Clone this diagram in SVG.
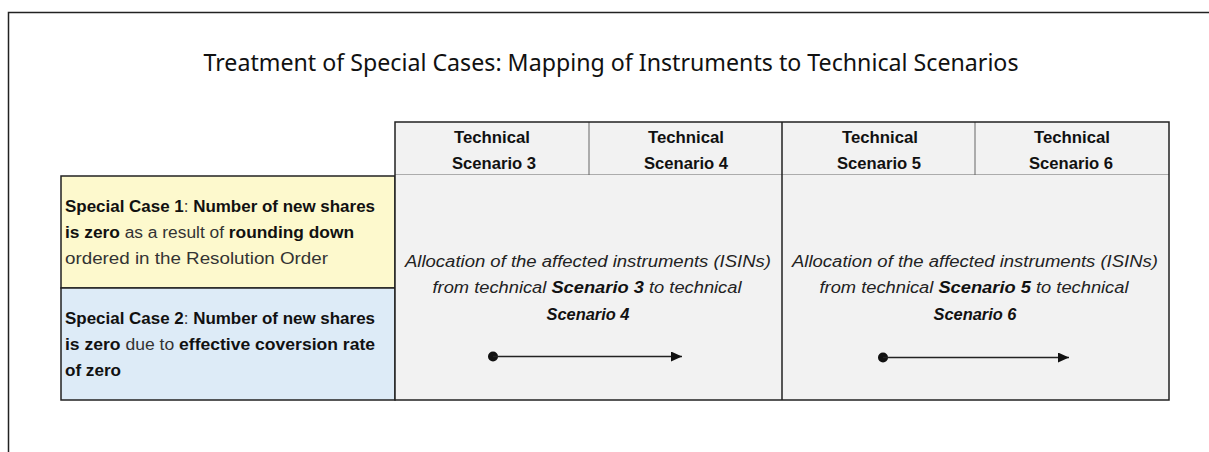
<svg xmlns="http://www.w3.org/2000/svg" width="1209" height="452" viewBox="0 0 1209 452">
<defs>
<style>
.frame{fill:none;stroke:#222;stroke-width:1.5}
.cell{stroke:#222;stroke-width:1.5}
.thin{stroke:#666;stroke-width:1;fill:none}
.hdr{font-family:"Liberation Sans",Arial,sans-serif;font-size:16px;font-weight:bold;fill:#111;text-anchor:middle}
.lbl{font-family:"Liberation Sans",Arial,sans-serif;font-size:16px;fill:#333}
.lbl .b{font-weight:bold;fill:#111}
.it{font-family:"Liberation Sans",Arial,sans-serif;font-size:16px;font-style:italic;fill:#222;text-anchor:middle}
.it .b{font-weight:bold;fill:#111}
.title{font-family:"Noto Sans","Open Sans",sans-serif;font-size:23px;fill:#111;text-anchor:middle}
.conn{stroke:#222;stroke-width:1.5;fill:none}
</style>
<marker id="ah" markerWidth="12" markerHeight="10" refX="11" refY="5" orient="auto" markerUnits="userSpaceOnUse">
<path d="M0,0 L11,5 L0,10 Z" fill="#111"/>
</marker>
</defs>
<rect x="0" y="0" width="1209" height="452" fill="#fff"/>
<path class="frame" d="M8.5,452 V12.5 H1209"/>
<text class="title" x="611" y="71" textLength="815" lengthAdjust="spacingAndGlyphs">Treatment of Special Cases: Mapping of Instruments to Technical Scenarios</text>

<g id="header">
<rect x="395" y="122" width="774" height="53" fill="#F2F2F2" stroke="none"/>
<line class="thin" x1="589" y1="122" x2="589" y2="175"/>
<line class="thin" x1="975" y1="122" x2="975" y2="175"/>
<line class="thin" x1="395" y1="175" x2="1169" y2="175"/>
<text class="hdr" x="492" y="143" textLength="76" lengthAdjust="spacingAndGlyphs">Technical</text>
<text class="hdr" x="494" y="169" textLength="84" lengthAdjust="spacingAndGlyphs">Scenario 3</text>
<text class="hdr" x="686" y="143" textLength="76" lengthAdjust="spacingAndGlyphs">Technical</text>
<text class="hdr" x="686" y="169" textLength="84" lengthAdjust="spacingAndGlyphs">Scenario 4</text>
<text class="hdr" x="880" y="143" textLength="76" lengthAdjust="spacingAndGlyphs">Technical</text>
<text class="hdr" x="879" y="169" textLength="84" lengthAdjust="spacingAndGlyphs">Scenario 5</text>
<text class="hdr" x="1072" y="143" textLength="76" lengthAdjust="spacingAndGlyphs">Technical</text>
<text class="hdr" x="1071" y="169" textLength="84" lengthAdjust="spacingAndGlyphs">Scenario 6</text>
</g>

<g id="case1">
<rect x="61" y="176" width="334" height="112" fill="#FDF9CD" class="cell"/>
<text class="lbl" x="65" y="212" textLength="310" lengthAdjust="spacingAndGlyphs"><tspan class="b">Special Case 1</tspan>: <tspan class="b">Number of new shares</tspan></text>
<text class="lbl" x="65" y="238" textLength="289" lengthAdjust="spacingAndGlyphs"><tspan class="b">is zero</tspan> as a result of <tspan class="b">rounding down</tspan></text>
<text class="lbl" x="65" y="264" textLength="263" lengthAdjust="spacingAndGlyphs">ordered in the Resolution Order</text>
</g>

<g id="case2">
<rect x="61" y="288" width="334" height="112" fill="#DDEBF7" class="cell"/>
<text class="lbl" x="65" y="324" textLength="310" lengthAdjust="spacingAndGlyphs"><tspan class="b">Special Case 2</tspan>: <tspan class="b">Number of new shares</tspan></text>
<text class="lbl" x="65" y="350" textLength="310" lengthAdjust="spacingAndGlyphs"><tspan class="b">is zero</tspan> due to <tspan class="b">effective coversion rate</tspan></text>
<text class="lbl" x="65" y="376" textLength="56" lengthAdjust="spacingAndGlyphs"><tspan class="b">of zero</tspan></text>
</g>

<g id="panel34">
<rect x="395" y="175" width="387" height="225" fill="#F2F2F2" stroke="none"/>
<text class="it" x="588" y="267" textLength="366" lengthAdjust="spacingAndGlyphs">Allocation of the affected instruments (ISINs)</text>
<text class="it" x="587" y="293" textLength="309" lengthAdjust="spacingAndGlyphs">from technical <tspan class="b">Scenario 3</tspan> to technical</text>
<text class="it" x="588" y="320" textLength="83" lengthAdjust="spacingAndGlyphs"><tspan class="b">Scenario 4</tspan></text>
</g>

<g id="panel56">
<rect x="782" y="175" width="387" height="225" fill="#F2F2F2" stroke="none"/>
<text class="it" x="975" y="267" textLength="366" lengthAdjust="spacingAndGlyphs">Allocation of the affected instruments (ISINs)</text>
<text class="it" x="974" y="293" textLength="309" lengthAdjust="spacingAndGlyphs">from technical <tspan class="b">Scenario 5</tspan> to technical</text>
<text class="it" x="975" y="320" textLength="83" lengthAdjust="spacingAndGlyphs"><tspan class="b">Scenario 6</tspan></text>
</g>

<g id="grid">
<rect x="395" y="122" width="774" height="278" fill="none" class="cell"/>
<line class="cell" x1="782" y1="122" x2="782" y2="400"/>
</g>

<g id="connectors">
<circle cx="493" cy="356.5" r="5" fill="#111"/>
<line class="conn" x1="493" y1="356.5" x2="682" y2="356.5" marker-end="url(#ah)"/>
<circle cx="883" cy="357.5" r="5" fill="#111"/>
<line class="conn" x1="883" y1="357.5" x2="1069" y2="357.5" marker-end="url(#ah)"/>
</g>
</svg>
